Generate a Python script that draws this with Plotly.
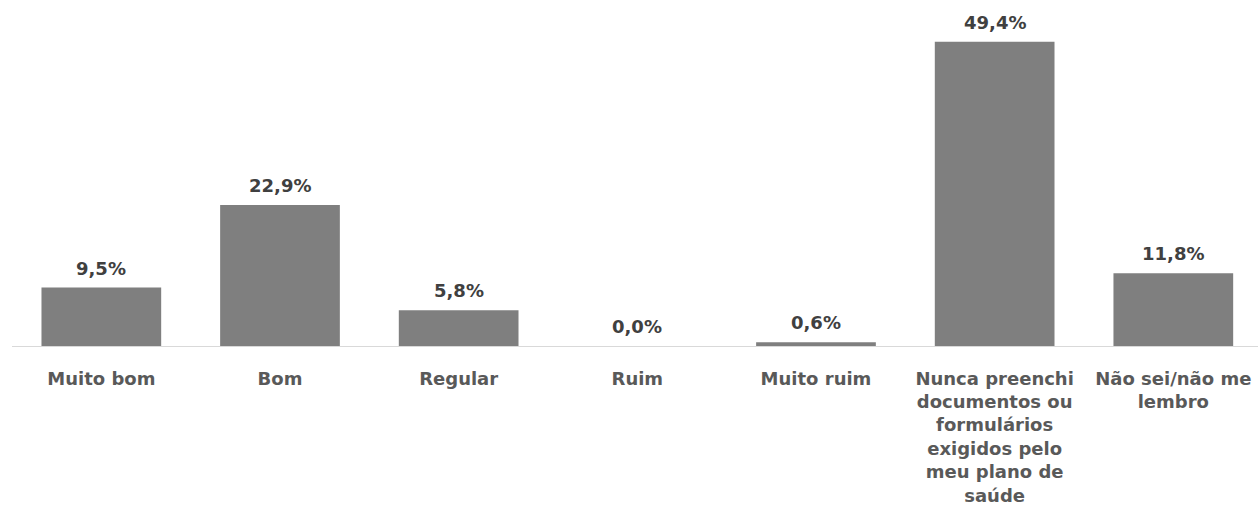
import plotly.graph_objects as go

categories = ["Muito bom", "Bom", "Regular", "Ruim", "Muito ruim",
              "Nunca preenchi documentos ou formulários exigidos pelo meu plano de saúde",
              "Não sei/não me lembro"]
tick_labels = ["Muito bom", "Bom", "Regular", "Ruim", "Muito ruim",
               "Nunca preenchi<br>documentos ou<br>formulários<br>exigidos pelo<br>meu plano de<br>saúde",
               "Não sei/não me<br>lembro"]
values = [9.5, 22.9, 5.8, 0.0, 0.6, 49.4, 11.8]
value_labels = ["9,5%", "22,9%", "5,8%", "0,0%", "0,6%", "49,4%", "11,8%"]

FONT = "DejaVu Sans"

fig = go.Figure()
fig.add_trace(go.Bar(
    x=list(range(len(categories))), y=values,
    marker=dict(color="#7f7f7f", line=dict(width=0)),
    width=0.67, hoverinfo="skip",
))

for i, (v, t) in enumerate(zip(values, value_labels)):
    fig.add_annotation(x=i, y=v, text=f"<b>{t}</b>", showarrow=False,
                       yanchor="bottom", yshift=7,
                       font=dict(family=FONT, size=18, color="#404040"))

fig.update_layout(
    width=1258, height=516,
    margin=dict(l=12, r=0, t=0, b=170),
    paper_bgcolor="white", plot_bgcolor="white",
    showlegend=False,
    bargap=0.33,
    xaxis=dict(
        range=[-0.5, 6.474],
        tickmode="array", tickvals=list(range(len(categories))),
        ticktext=[f"<b>{t}</b>" for t in tick_labels],
        tickfont=dict(family=FONT, size=18, color="#595959"),
        ticklabelstandoff=16,
        showline=True, linecolor="#d9d9d9", linewidth=1,
        showgrid=False, zeroline=False, ticks="",
    ),
    yaxis=dict(range=[0, 56.2], visible=False, showgrid=False, zeroline=False),
)

fig.write_html("out.html", config={"displayModeBar": False},
               post_script="document.body.style.margin='0';document.body.style.overflow='hidden';")
